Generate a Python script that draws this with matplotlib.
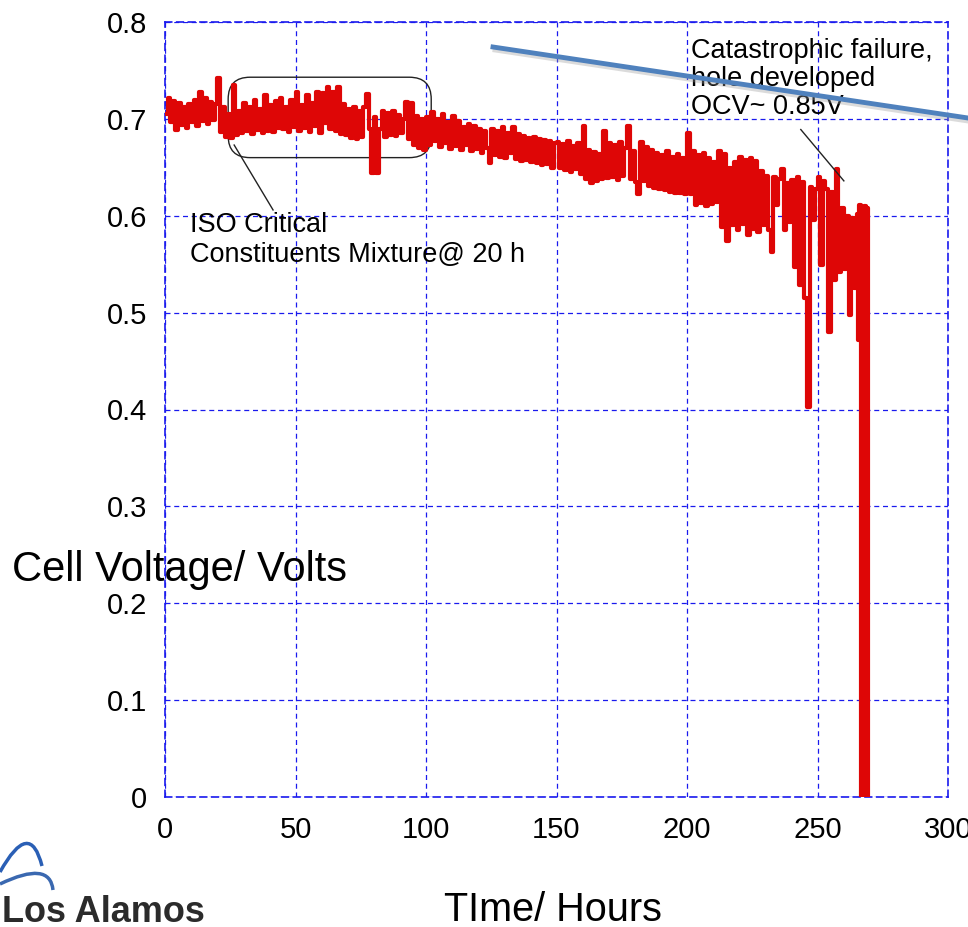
import numpy as np
import matplotlib
matplotlib.use("Agg")
import matplotlib.pyplot as plt
from matplotlib.patches import FancyBboxPatch, PathPatch
from matplotlib.lines import Line2D
from matplotlib.path import Path

plt.rcParams['font.family'] = ['Liberation Sans', 'DejaVu Sans']

# cell voltage, one reading per hour, t = 0 .. 265 h
volts = [
    0.705, 0.722, 0.697, 0.718, 0.689, 0.716, 0.694, 0.712, 0.691, 0.715,
    0.697, 0.719, 0.693, 0.728, 0.698, 0.722, 0.695, 0.717, 0.699, 0.715,
    0.742, 0.686, 0.712, 0.681, 0.705, 0.680, 0.735, 0.683, 0.708, 0.685,
    0.716, 0.687, 0.712, 0.684, 0.720, 0.689, 0.710, 0.685, 0.725, 0.688,
    0.714, 0.686, 0.718, 0.691, 0.722, 0.690, 0.712, 0.686, 0.719, 0.692,
    0.728, 0.688, 0.714, 0.691, 0.725, 0.686, 0.716, 0.693, 0.728, 0.685,
    0.727, 0.696, 0.733, 0.690, 0.728, 0.688, 0.733, 0.684, 0.715, 0.683,
    0.710, 0.680, 0.712, 0.679, 0.708, 0.681, 0.712, 0.726, 0.690, 0.644,
    0.702, 0.644, 0.690, 0.708, 0.681, 0.706, 0.683, 0.708, 0.682, 0.704,
    0.685, 0.700, 0.717, 0.679, 0.716, 0.673, 0.703, 0.670, 0.700, 0.668,
    0.702, 0.673, 0.707, 0.677, 0.700, 0.671, 0.705, 0.675, 0.697, 0.669,
    0.703, 0.672, 0.698, 0.668, 0.692, 0.673, 0.695, 0.667, 0.693, 0.669,
    0.690, 0.665, 0.688, 0.670, 0.654, 0.690, 0.663, 0.688, 0.661, 0.692,
    0.660, 0.685, 0.665, 0.692, 0.659, 0.684, 0.657, 0.682, 0.658, 0.680,
    0.655, 0.681, 0.654, 0.679, 0.652, 0.678, 0.653, 0.677, 0.649, 0.675,
    0.676, 0.649, 0.674, 0.647, 0.677, 0.645, 0.672, 0.648, 0.675, 0.643,
    0.693, 0.638, 0.668, 0.634, 0.666, 0.636, 0.664, 0.638, 0.688, 0.639,
    0.675, 0.640, 0.673, 0.637, 0.676, 0.641, 0.670, 0.693, 0.638, 0.667,
    0.635, 0.622, 0.676, 0.636, 0.671, 0.631, 0.668, 0.629, 0.665, 0.628,
    0.663, 0.627, 0.667, 0.625, 0.661, 0.624, 0.664, 0.623, 0.660, 0.622,
    0.685, 0.622, 0.667, 0.611, 0.663, 0.613, 0.665, 0.610, 0.660, 0.612,
    0.656, 0.614, 0.667, 0.588, 0.664, 0.574, 0.649, 0.590, 0.655, 0.585,
    0.661, 0.592, 0.658, 0.580, 0.660, 0.586, 0.657, 0.583, 0.646, 0.590,
    0.641, 0.585, 0.563, 0.640, 0.611, 0.638, 0.648, 0.585, 0.634, 0.594,
    0.637, 0.547, 0.640, 0.529, 0.635, 0.515, 0.403, 0.630, 0.596, 0.628,
    0.640, 0.549, 0.636, 0.628, 0.480, 0.625, 0.534, 0.648, 0.542, 0.608,
    0.545, 0.600, 0.498, 0.598, 0.525, 0.602,
]
hours = list(range(len(volts)))

# final collapse, sampled finer
tail_hours = [265.5, 266.0, 266.5, 267.0, 267.5, 268.0, 268.5, 269.0, 269.3]
tail_volts = [0.472, 0.611, 0.0, 0.605, 0.0, 0.610, 0.0, 0.608, 0.0]

t = np.array(hours + tail_hours)
v = np.array(volts + tail_volts)

W, H = 968, 927
fig = plt.figure(figsize=(W / 100, H / 100), dpi=100)
ax = fig.add_axes([165 / W, 1 - 797 / H, (948 - 165) / W, (797 - 22) / H])

ax.plot(t, v, color='#de0606', lw=3.0, drawstyle='steps-post', zorder=3)

ax.set_xlim(0, 300)
ax.set_ylim(0, 0.8)
ax.set_xticks(np.arange(0, 301, 50))
ax.set_yticks(np.arange(0, 0.81, 0.1))
ax.set_yticklabels(['0', '0.1', '0.2', '0.3', '0.4', '0.5', '0.6', '0.7', '0.8'])
ax.tick_params(length=0, labelsize=21)
ax.tick_params(axis='x', pad=14)
ax.tick_params(axis='y', pad=13)
ax.grid(True, color='#1a1aee', linestyle=(0, (4, 3)), linewidth=0.9)
for s in ax.spines.values():
    s.set_color('#1a1aee')
    s.set_linestyle((0, (4, 3)))
    s.set_linewidth(1.2)

# rounded box around the ISO mixture period
box = FancyBboxPatch((24.2, 0.660), 77.8, 0.083,
                     boxstyle="round,pad=0,rounding_size=8.4",
                     mutation_aspect=0.00269, fc='none', ec='#222222',
                     lw=1.0, zorder=2)
ax.add_patch(box)
ax.plot([26.5, 41.4], [0.673, 0.606], color='#222222', lw=1.0, zorder=4)
ax.text(9.6, 0.604, "ISO Critical\nConstituents Mixture@ 20 h", fontsize=19.5,
        va='top', ha='left', linespacing=1.2, zorder=5)

ax.plot([243.6, 260.1], [0.689, 0.636], color='#222222', lw=1.0, zorder=4)
ax.text(201.4, 0.783, "Catastrophic failure,\nhole developed\nOCV~ 0.85V",
        fontsize=19.5, va='top', ha='left', linespacing=1.1, zorder=5)

# slide decoration line
fig.add_artist(Line2D([495 / W, 1.0], [1 - 50 / H, 1 - 121 / H],
                      color='#999999', lw=3.5, alpha=0.35))
fig.add_artist(Line2D([493 / W, 1.0], [1 - 47 / H, 1 - 118 / H],
                      color='#4f81bd', lw=3.5))

fig.text(12 / W, 1 - 570 / H, "Cell Voltage/ Volts", fontsize=30,
         ha='left', va='center')
fig.text(553 / W, 1 - 910 / H, "TIme/ Hours", fontsize=28.5,
         ha='center', va='center')

# logo
def fpath(pts):
    return [(x / W, 1 - y / H) for x, y in pts]

arc1 = Path(fpath([(0, 872), (30, 818), (42, 866)]),
            [Path.MOVETO, Path.CURVE3, Path.CURVE3])
arc2 = Path(fpath([(0, 884), (50, 860), (53, 890)]),
            [Path.MOVETO, Path.CURVE3, Path.CURVE3])
fig.add_artist(PathPatch(arc1, fc='none', ec='#2a5fb5', lw=2.5,
                         transform=fig.transFigure))
fig.add_artist(PathPatch(arc2, fc='none', ec='#3a68b0', lw=2.5,
                         transform=fig.transFigure))
fig.text(2 / W, 1 - 922 / H, "Los Alamos", fontsize=26, color='#2b2b2b',
         fontweight='bold', ha='left', va='baseline')

fig.savefig("out.png", dpi=100)
